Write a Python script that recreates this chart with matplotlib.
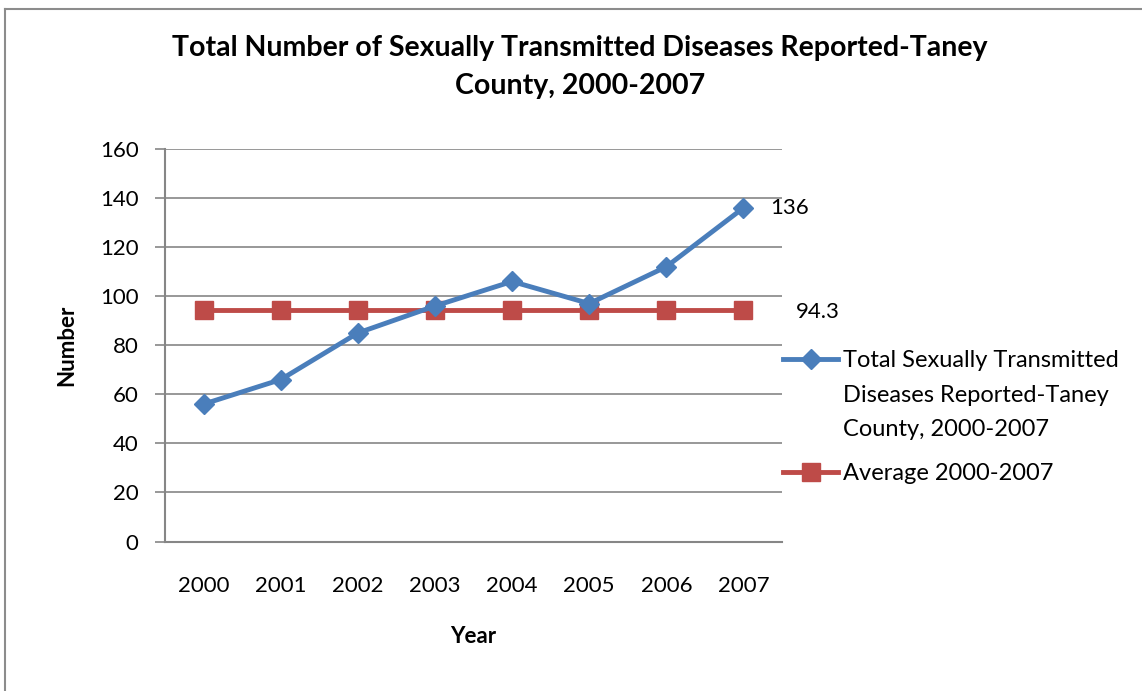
import matplotlib
matplotlib.use("Agg")
import matplotlib.pyplot as plt
from matplotlib.lines import Line2D

years = ["2000", "2001", "2002", "2003", "2004", "2005", "2006", "2007"]
totals = [56, 66, 85, 96, 106, 97, 112, 136]
average = [94.3] * 8
y_ticks = [0, 20, 40, 60, 80, 100, 120, 140, 160]

title = "Total Number of Sexually Transmitted Diseases Reported-Taney\nCounty, 2000-2007"
label_total = "Total Sexually Transmitted\nDiseases Reported-Taney\nCounty, 2000-2007"
label_avg = "Average 2000-2007"

plt.rcParams['font.family'] = ['Lato', 'DejaVu Sans']
FS = 16

W, H = 1142, 691
fig = plt.figure(figsize=(W / 100, H / 100), dpi=100)

# outer border (left and top visible)
fig.add_artist(Line2D([4.5 / W, 4.5 / W], [0, 1 - 9 / H], transform=fig.transFigure,
                      color="#8c8c8c", lw=1.5))
fig.add_artist(Line2D([4.5 / W, 1], [1 - 9 / H, 1 - 9 / H], transform=fig.transFigure,
                      color="#8c8c8c", lw=1.5))

left, right, top, bottom = 165, 782, 149, 541.5
ax = fig.add_axes([left / W, 1 - bottom / H, (right - left) / W, (bottom - top) / H])

x = list(range(len(years)))
blue = "#4a7ebb"
red = "#be4b48"
ax.plot(x, average, color=red, lw=3.5, marker="s", markersize=13, zorder=3)
ax.plot(x, totals, color=blue, lw=3.5, marker="D", markersize=10, zorder=4)

ax.set_xlim(-0.5, len(years) - 0.5)
ax.set_ylim(0, 160)
ax.set_yticks(y_ticks)
ax.set_xticks(x)
ax.set_xticklabels(years)
ax.tick_params(axis="x", length=0, pad=24.5, labelsize=FS)
ax.tick_params(axis="y", length=7, width=1.2, color="#868686", pad=12, labelsize=FS)
ax.grid(axis="y", color="#868686", lw=1.2)
ax.set_axisbelow(True)
for s in ["top", "right"]:
    ax.spines[s].set_visible(False)
for s in ["left", "bottom"]:
    ax.spines[s].set_color("#868686")
    ax.spines[s].set_linewidth(1.5)

ax.annotate(str(totals[-1]), xy=(x[-1], totals[-1]), xytext=(19, 0), textcoords="offset points",
            va="center", ha="left", fontsize=FS)
ax.annotate(f"{average[-1]:.1f}", xy=(x[-1], average[-1]), xytext=(38, -1.5), textcoords="offset points",
            va="center", ha="left", fontsize=FS)

ax.set_ylabel("Number", fontsize=FS, fontweight="bold", labelpad=16)
ax.set_xlabel("Year", fontsize=FS, fontweight="bold", labelpad=22)

fig.text(580 / W, 1 - 67 / H, title, ha="center", va="center", fontsize=20.5,
         fontweight="bold", linespacing=1.6)

# legend drawn entry by entry (handle aligned with the first text line)
LFS = 17
def legend_entry(y_px, color, marker, ms, label):
    fig.add_artist(Line2D([783 / W, 838 / W], [1 - y_px / H, 1 - y_px / H],
                          transform=fig.transFigure, color=color, lw=3.5))
    fig.add_artist(Line2D([810.5 / W], [1 - y_px / H], transform=fig.transFigure,
                          color=color, marker=marker, markersize=ms, lw=0))
    fig.text(843 / W, 1 - (y_px - 9) / H, label, ha="left", va="top", fontsize=LFS,
             linespacing=1.8)

legend_entry(359, blue, "D", 10, label_total)
legend_entry(472, red, "s", 13, label_avg)

fig.savefig("out.png", dpi=100)
